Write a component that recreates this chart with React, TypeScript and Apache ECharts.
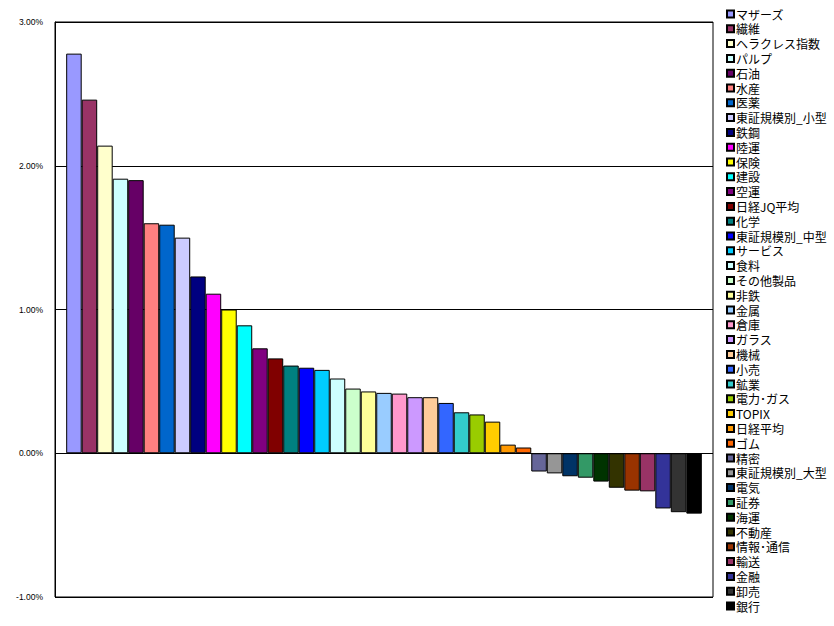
import React, { useEffect, useRef } from "react";
import * as echarts from "echarts";

const names = [
  "マザーズ", "繊維", "ヘラクレス指数", "パルプ", "石油", "水産", "医薬", "東証規模別_小型",
  "鉄鋼", "陸運", "保険", "建設", "空運", "日経JQ平均", "化学", "東証規模別_中型",
  "サービス", "食料", "その他製品", "非鉄", "金属", "倉庫", "ガラス", "機械",
  "小売", "鉱業", "電力･ガス", "TOPIX", "日経平均", "ゴム", "精密", "東証規模別_大型",
  "電気", "証券", "海運", "不動産", "情報･通信", "輸送", "金融", "卸売", "銀行",
];

const values = [
  2.78, 2.46, 2.14, 1.91, 1.9, 1.6, 1.59, 1.5,
  1.23, 1.11, 1.0, 0.89, 0.73, 0.66, 0.61, 0.595,
  0.58, 0.52, 0.45, 0.43, 0.42, 0.415, 0.39, 0.39,
  0.35, 0.285, 0.27, 0.22, 0.06, 0.04, -0.127, -0.14,
  -0.16, -0.17, -0.197, -0.24, -0.26, -0.265, -0.384, -0.41, -0.42,
];

const colors = [
  "#9999FF", "#993366", "#FFFFCC", "#CCFFFF", "#660066", "#FF8080", "#0066CC", "#CCCCFF",
  "#000080", "#FF00FF", "#FFFF00", "#00FFFF", "#800080", "#800000", "#008080", "#0000FF",
  "#00CCFF", "#CCFFFF", "#CCFFCC", "#FFFF99", "#99CCFF", "#FF99CC", "#CC99FF", "#FFCC99",
  "#3366FF", "#33CCCC", "#99CC00", "#FFCC00", "#FF9900", "#FF6600", "#666699", "#969696",
  "#003366", "#339966", "#003300", "#333300", "#993300", "#993366", "#333399", "#333333", "#000000",
];

const yTicks = { min: -1, max: 3, interval: 1 };

export default function App() {
  const ref = useRef<HTMLDivElement>(null);
  useEffect(() => {
    document.body.style.margin = "0";
    const chart = echarts.init(ref.current!, null, { renderer: "svg" });
    chart.setOption({
      animation: false,
      backgroundColor: "#fff",
      grid: {
        left: 55,
        top: 22,
        width: 658,
        height: 575,
        show: true,
        borderColor: "#000",
        borderWidth: 1,
        backgroundColor: "#fff",
      },
      xAxis: {
        type: "category",
        data: [""],
        axisLine: { show: false },
        axisTick: { show: false },
        axisLabel: { show: false },
        splitLine: { show: false },
      },
      yAxis: {
        type: "value",
        min: yTicks.min,
        max: yTicks.max,
        interval: yTicks.interval,
        axisLine: { show: true, lineStyle: { color: "#000", width: 1 } },
        axisTick: { show: false },
        axisLabel: {
          margin: 12,
          fontSize: 8.5,
          color: "#000",
          fontFamily: "Liberation Sans, Arial, sans-serif",
          formatter: (v: number) => v.toFixed(2) + "%",
        },
        splitLine: { show: true, lineStyle: { color: "#000", width: 1 } },
      },
      legend: {
        orient: "vertical",
        left: 726,
        top: 8,
        padding: 0,
        height: 615,
        itemWidth: 7,
        itemHeight: 7,
        itemGap: 2.8,
        icon: "rect",
        selectedMode: false,
        textStyle: {
          fontSize: 12,
          lineHeight: 12,
          padding: [0, 0, 0, -3],
          color: "#000",
          fontFamily: "Noto Sans CJK JP, sans-serif",
        },
        data: names,
      },
      series: names.map((n, i) => ({
        type: "bar",
        name: n,
        data: [values[i]],
        barGap: "0%",
        barCategoryGap: "3.4%",
        itemStyle: { color: colors[i], borderColor: "#000", borderWidth: 1 },
      })),
    });
    return () => chart.dispose();
  }, []);
  return <div ref={ref} style={{ width: 834, height: 626 }} />;
}
